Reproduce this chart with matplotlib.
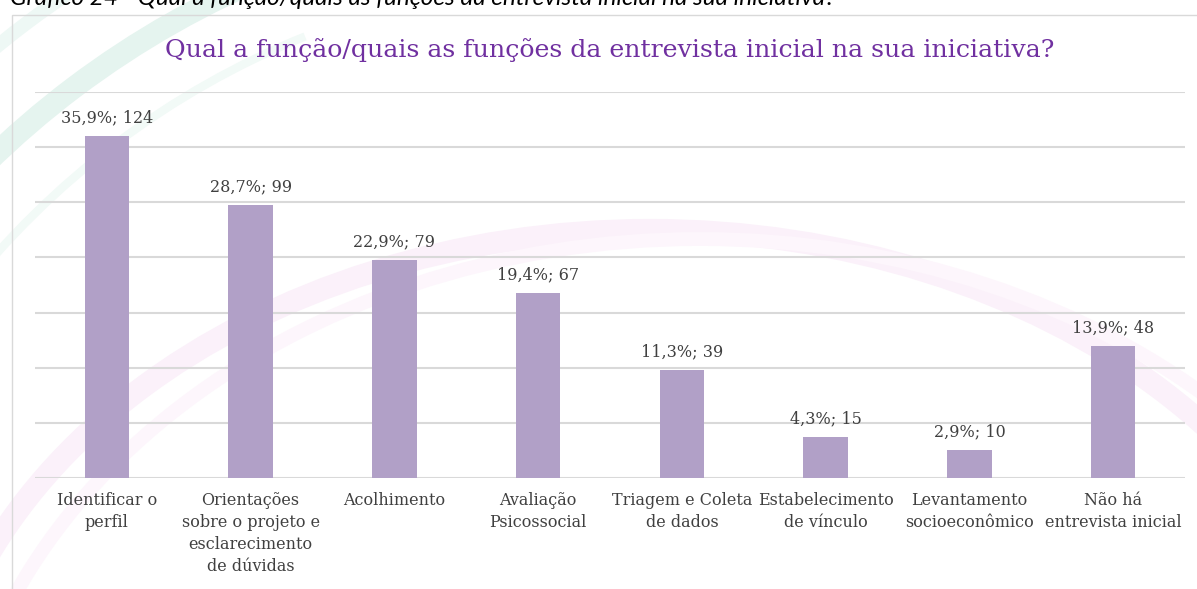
import matplotlib.pyplot as plt
from matplotlib.patches import Arc, Rectangle

categories = [
    "Identificar o\nperfil",
    "Orientações\nsobre o projeto e\nesclarecimento\nde dúvidas",
    "Acolhimento",
    "Avaliação\nPsicossocial",
    "Triagem e Coleta\nde dados",
    "Estabelecimento\nde vínculo",
    "Levantamento\nsocioeconômico",
    "Não há\nentrevista inicial",
]
counts = [124, 99, 79, 67, 39, 15, 10, 48]
percents = ["35,9%", "28,7%", "22,9%", "19,4%", "11,3%", "4,3%", "2,9%", "13,9%"]

bar_color = "#b1a0c7"
title_color = "#7030a0"
text_color = "#404040"
serif = "DejaVu Serif"

fig = plt.figure(figsize=(11.97, 5.89), dpi=100)

# faint decorative swooshes in the background (pixel coords, y up)
bg = fig.add_axes([0, 0, 1, 1], zorder=0)
bg.set_xlim(0, 1197)
bg.set_ylim(0, 589)
bg.axis("off")
for cx, cy, w, h, col, lw in [
    (650, -191, 1450, 1100, "#fbf1fa", 16),
    (700, -250, 1500, 1200, "#fdf6fc", 10),
]:
    bg.add_patch(Arc((cx, cy), w, h, theta1=0, theta2=180, color=col, lw=lw))
for r, col, lw in [(900, "#e5f4ef", 16), (980, "#eef8f5", 10), (830, "#f2faf7", 6)]:
    bg.add_patch(Arc((616, -217), 2 * r, 2 * r, theta1=112, theta2=142, color=col, lw=lw))
bg.add_patch(Rectangle((12, -200), 1300, 574 + 200, fill=False, ec="#d9d9d9", lw=1))

# caption (cut at the top of the page, as in the source document)
fig.text(0.008, 1 - 5 / 589, "Gráfico 24 - Qual a função/quais as funções da entrevista inicial na sua iniciativa?",
         fontsize=17.5, fontstyle="italic", family="Lato", color="black", va="baseline", ha="left")

ax = fig.add_axes([35 / 1197, 1 - 478 / 589, 1150 / 1197, (478 - 92) / 589], zorder=1)
ax.set_facecolor("none")
x = range(len(categories))
ax.bar(x, counts, width=0.31, color=bar_color, zorder=2)
ax.set_xlim(-0.5, len(categories) - 0.5)
ax.set_ylim(0, 140)
ax.set_yticks(range(0, 141, 20))
ax.yaxis.grid(True, color="#d9d9d9", lw=1.5)
ax.set_axisbelow(True)
ax.tick_params(axis="y", left=False, labelleft=False)
ax.tick_params(axis="x", length=0, pad=10)
ax.set_xticks(list(x))
ax.set_xticklabels(categories, fontsize=11.5, family=serif, color=text_color, va="top", linespacing=1.4)
for s in ax.spines.values():
    s.set_visible(False)

for i, (c, p) in enumerate(zip(counts, percents)):
    ax.annotate(f"{p}; {c}", (i, c), xytext=(0, 7), textcoords="offset points",
                ha="center", va="bottom", fontsize=11.5, family=serif, color=text_color)

fig.text(610 / 1197, 1 - 50 / 589, "Qual a função/quais as funções da entrevista inicial na sua iniciativa?",
         ha="center", va="center", fontsize=18.2, family=serif, color=title_color)

fig.savefig("out.png", dpi=100)
